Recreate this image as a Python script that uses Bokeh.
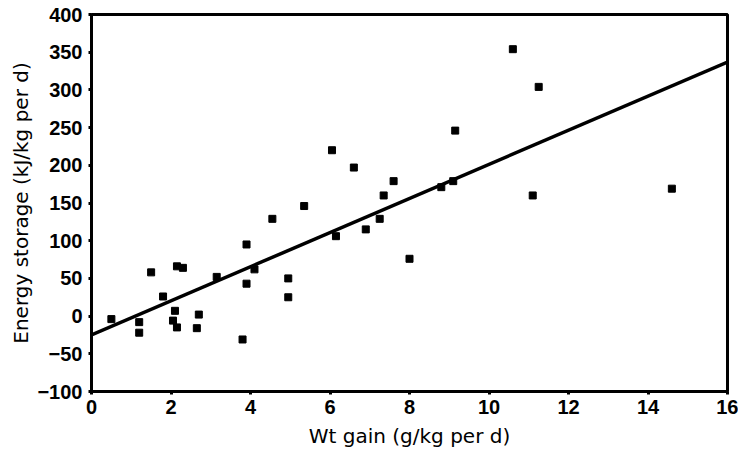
from bokeh.plotting import figure
from bokeh.models import Range1d, FixedTicker
from bokeh.embed import file_html
from bokeh.resources import INLINE

# Data
wt_gain = [0.5, 1.2, 1.2, 1.5, 1.8, 2.15, 2.3, 2.1, 2.05, 2.15, 2.7, 2.65, 3.15,
           3.9, 3.9, 3.8, 4.1, 4.55, 5.35, 4.95, 4.95, 6.05, 6.6, 6.15, 6.9,
           7.25, 7.35, 7.6, 8.0, 8.8, 9.1, 9.15, 10.6, 11.25, 11.1, 14.6]
energy = [-4, -8, -22, 58, 26, 66, 64, 7, -6, -15, 2, -16, 52,
          95, 43, -31, 62, 129, 146, 50, 25, 220, 197, 106, 115,
          129, 160, 179, 76, 171, 179, 246, 354, 304, 160, 169]

fit_x = [0, 16]
fit_y = [-25, 337]

x_ticks = [0, 2, 4, 6, 8, 10, 12, 14, 16]
y_ticks = [-100, -50, 0, 50, 100, 150, 200, 250, 300, 350, 400]
y_tick_labels = ["\u2212100", "\u221250", "0", "50", "100", "150", "200", "250", "300", "350", "400"]

p = figure(width=738, height=453, output_backend="svg", toolbar_location=None,
           x_range=Range1d(0, 16), y_range=Range1d(-100, 400),
           min_border_left=91, min_border_right=11, min_border_top=14, min_border_bottom=62)

p.grid.visible = False
p.outline_line_color = "black"
p.outline_line_width = 3
p.background_fill_color = "white"
p.border_fill_color = "white"

p.line(fit_x, fit_y, line_color="black", line_width=3.5)
p.scatter(wt_gain, energy, marker="square", size=7, fill_color="black", line_color="black")

for ax in (p.xaxis[0], p.yaxis[0]):
    ax.axis_line_width = 3
    ax.axis_line_color = "black"
    ax.major_tick_line_width = 3
    ax.major_tick_in = 0
    ax.major_tick_out = 3
    ax.minor_tick_line_color = None
    ax.major_label_text_font = "Liberation Sans"
    ax.major_label_text_font_size = "20px"
    ax.major_label_text_font_style = "bold"
    ax.major_label_text_color = "black"
    ax.axis_label_text_font = "DejaVu Sans"
    ax.axis_label_text_font_size = "20px"
    ax.axis_label_text_font_style = "normal"
    ax.axis_label_text_color = "black"

p.xaxis.ticker = FixedTicker(ticks=x_ticks)
p.yaxis.ticker = FixedTicker(ticks=y_ticks)
p.yaxis.major_label_overrides = {t: l for t, l in zip(y_ticks, y_tick_labels)}
p.xaxis.axis_label = "Wt gain (g/kg per d)"
p.yaxis.axis_label = "Energy storage (kJ/kg per d)"
p.xaxis.major_label_standoff = 5
p.yaxis.major_label_standoff = 6
p.xaxis.axis_label_standoff = 7
p.yaxis.axis_label_standoff = 1

open("out.html", "w").write(file_html(p, INLINE))
